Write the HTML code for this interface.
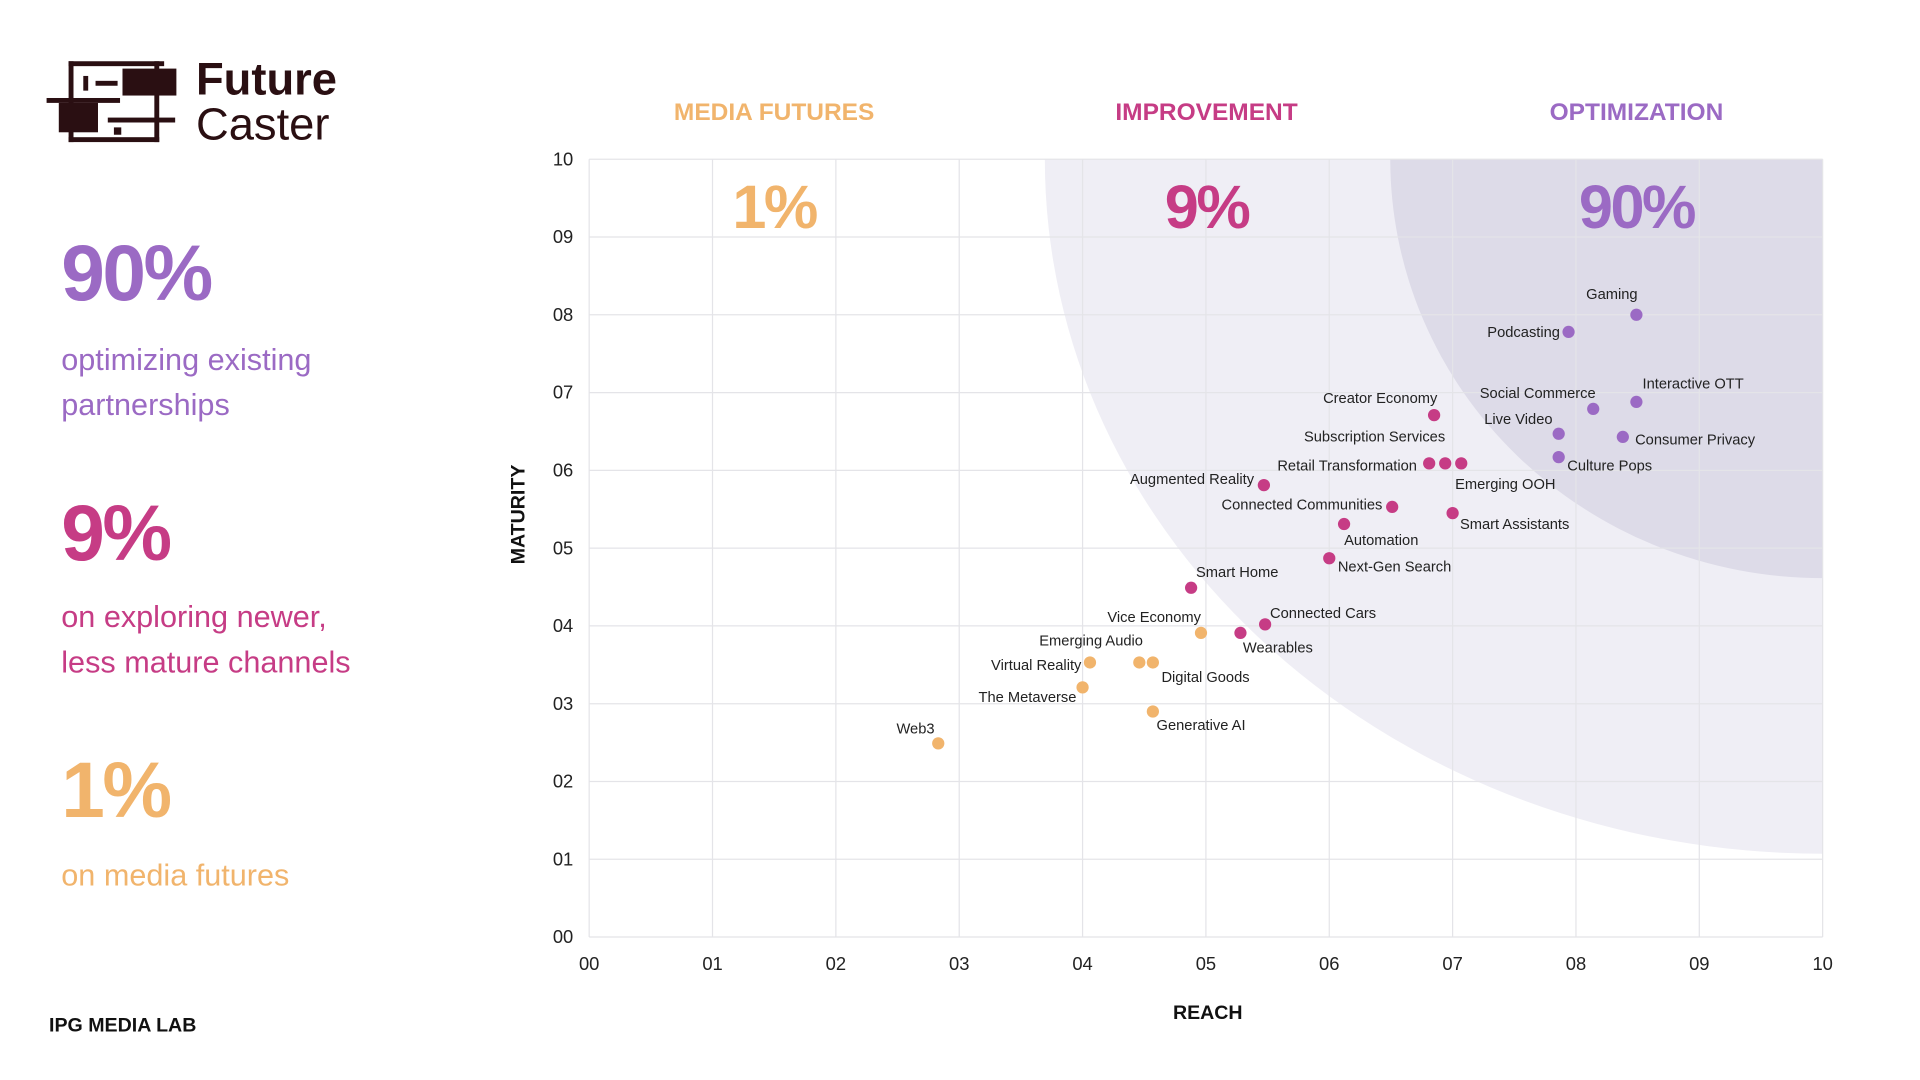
<!DOCTYPE html>
<html><head><meta charset="utf-8">
<style>
html,body{margin:0;padding:0;background:#fff;overflow:hidden;width:1920px;height:1080px}
#wrap{position:absolute;left:0;top:0;width:1568px;height:882px;transform:scale(1.2249);transform-origin:0 0;font-family:"Liberation Sans",sans-serif}
.big{position:absolute;font-weight:bold;letter-spacing:-2px}
.sub{position:absolute;font-size:25px;line-height:37px}
</style></head><body>
<div id="wrap">
  <svg style="position:absolute;left:38px;top:46px" width="110" height="74">
    <g fill="#2a0f12"><rect x="18" y="4" width="78" height="4"/><rect x="18" y="4" width="4" height="66"/><rect x="18" y="66" width="74" height="4"/><rect x="88" y="4" width="4" height="66"/>
    <rect x="62" y="10" width="44" height="22"/><rect x="10" y="38" width="32" height="24"/><rect x="0" y="34" width="60" height="4"/><rect x="50" y="50" width="55" height="4"/><rect x="30" y="16" width="4" height="12"/><rect x="40" y="20" width="18" height="4"/><rect x="55" y="58" width="6" height="6"/></g>
  </svg>
  <div style="position:absolute;left:160px;top:46px;font-size:37px;line-height:37px;color:#2a0f12"><b>Future</b><br>Caster</div>
  <div class="big" style="left:50px;top:186px;font-size:64px;color:#9b6ac4">90%</div>
  <div class="sub" style="left:50px;top:276px;color:#9b6ac4">optimizing existing<br>partnerships</div>
  <div class="big" style="left:50px;top:398px;font-size:64px;color:#c63c85">9%</div>
  <div class="sub" style="left:50px;top:486px;color:#c63c85">on exploring newer,<br>less mature channels</div>
  <div class="big" style="left:50px;top:608px;font-size:64px;color:#f1b46c">1%</div>
  <div class="sub" style="left:50px;top:697px;color:#f1b46c">on media futures</div>
  <div style="position:absolute;left:40px;top:829px;font-size:16px;font-weight:bold;color:#111">IPG MEDIA LAB</div>
  <svg id="chart" style="position:absolute;left:0;top:0" width="1568" height="882"></svg>
</div>
<script>
const names=["Gaming","Podcasting","Interactive OTT","Social Commerce","Live Video","Consumer Privacy","Culture Pops","Creator Economy","Subscription Services","Retail Transformation","Emerging OOH","Augmented Reality","Connected Communities","Smart Assistants","Automation","Next-Gen Search","Smart Home","Connected Cars","Wearables","Vice Economy","Emerging Audio","Virtual Reality","Digital Goods","The Metaverse","Generative AI","Web3"];
const reach=[8.49,7.94,8.49,8.14,7.86,8.38,7.86,6.85,6.94,6.81,7.07,5.47,6.51,7.0,6.12,6.0,4.88,5.48,5.28,4.96,4.46,4.06,4.57,4.0,4.57,2.83];
const maturity=[8.0,7.78,6.88,6.79,6.47,6.43,6.17,6.71,6.09,6.09,6.09,5.81,5.53,5.45,5.31,4.87,4.49,4.02,3.91,3.91,3.53,3.53,3.53,3.21,2.9,2.49];
const groups=["o","o","o","o","o","o","o","i","i","i","i","i","i","i","i","i","i","i","i","f","f","f","f","f","f","f"];
const tickLabels=["00","01","02","03","04","05","06","07","08","09","10"];
const labelPos=[[-20,-17,"middle"],[-7,0,"end"],[5,-15,"start"],[2,-13,"end"],[-5,-12,"end"],[10,2,"start"],[7,7,"start"],[-44,-14,"middle"],[0,-22,"end"],[-10,2,"end"],[-5,17,"start"],[-8,-5,"end"],[-8,-2,"end"],[6,9,"start"],[0,13,"start"],[7,7,"start"],[4,-13,"start"],[4,-9,"start"],[2,12,"start"],[0,-13,"end"],[3,-18,"end"],[-7,2,"end"],[7,12,"start"],[-5,8,"end"],[3,11,"start"],[-3,-12,"end"]];
const colors={o:"#9b6ac4",i:"#c63c85",f:"#f1b46c"};
const NS="http://www.w3.org/2000/svg",svg=document.getElementById("chart");
const X0=481,X1=1488,Y0=765,Y1=130;
const sx=v=>X0+(X1-X0)*v/10, sy=v=>Y0-(Y0-Y1)*v/10;
function mk(t,a,p){const e=document.createElementNS(NS,t);for(const k in a)e.setAttribute(k,a[k]);(p||svg).appendChild(e);return e;}
const defs=mk("defs",{});const cp=mk("clipPath",{id:"pc"},defs);mk("rect",{x:X0,y:Y1,width:X1-X0,height:Y0-Y1},cp);
const bg=mk("g",{"clip-path":"url(#pc)"});
let e=mk("ellipse",{cx:X1,cy:Y1,rx:635,ry:567,fill:"#efeef5"},bg);


e=mk("ellipse",{cx:X1,cy:Y1,rx:353,ry:342,fill:"#dddbe8"},bg);


tickLabels.forEach((t,i)=>{
  e=mk("line",{x1:sx(i),x2:sx(i),y1:Y1,y2:Y0,stroke:"#e4e4e8","stroke-width":1});
  
  
  e=mk("line",{x1:X0,x2:X1,y1:sy(i),y2:sy(i),stroke:"#e4e4e8","stroke-width":1});
  
  
  e=mk("text",{x:sx(i),y:792,"text-anchor":"middle","font-size":15,fill:"#222"});e.textContent=t;
  
  
  e=mk("text",{x:468,y:sy(i)+5,"text-anchor":"end","font-size":15,fill:"#222"});e.textContent=t;
  
  
});
const heads=[["MEDIA FUTURES","1%","#f1b46c",632],["IMPROVEMENT","9%","#c63c85",985],["OPTIMIZATION","90%","#9b6ac4",1336]];
heads.forEach(h=>{
  e=mk("text",{x:h[3],y:98,"text-anchor":"middle","font-size":20,"font-weight":"bold",fill:h[2]});e.textContent=h[0];
  
  
  e=mk("text",{x:h[3],y:186,"text-anchor":"middle","font-size":50,"font-weight":"bold",fill:h[2],"letter-spacing":"-2"});e.textContent=h[1];
  
  
});
e=mk("text",{x:986,y:832,"text-anchor":"middle","font-size":16,"font-weight":"bold",fill:"#111"});e.textContent="REACH";


e=mk("text",{x:428,y:420,"text-anchor":"middle","font-size":16,"font-weight":"bold",fill:"#111",transform:"rotate(-90 428 420)"});e.textContent="MATURITY";


names.forEach((n,i)=>{
  const x=sx(reach[i]),y=sy(maturity[i]);
  e=mk("circle",{cx:x,cy:y,r:5,fill:colors[groups[i]]});
  
  
  const p=labelPos[i];
  e=mk("text",{x:x+p[0],y:y+p[1]+4,"text-anchor":p[2],"font-size":12,fill:"#222"});e.textContent=n;
  
  
});
</script>
</body></html>
